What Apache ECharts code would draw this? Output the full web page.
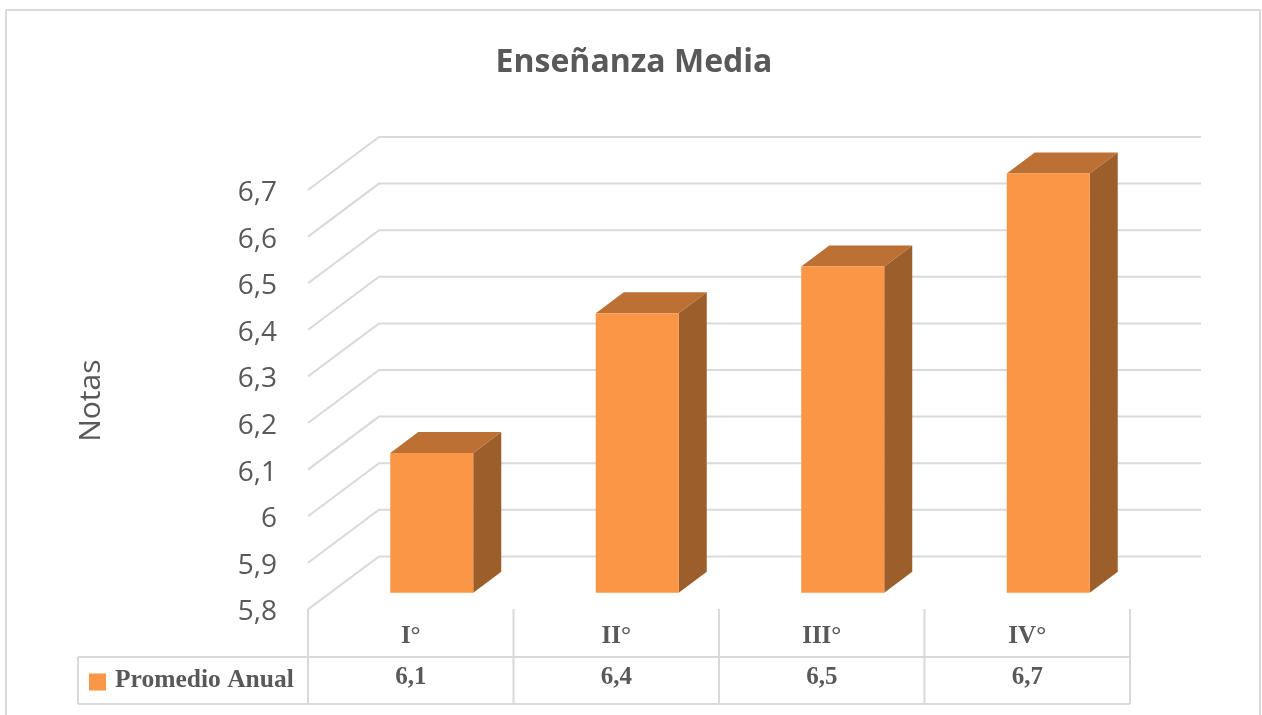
<!DOCTYPE html>
<html>
<head>
<meta charset="utf-8">
<style>html,body{margin:0;padding:0;background:#fff}#c{width:1262px;height:715px}</style>
<script src="https://cdn.jsdelivr.net/npm/echarts@6/dist/echarts.min.js"></script>
</head>
<body>
<div id="c"></div>
<script>
const categories = ['I°', 'II°', 'III°', 'IV°'];
const promedioAnual = [6.1, 6.4, 6.5, 6.7];
const tableLabels = ['6,1', '6,4', '6,5', '6,7'];
const yTicks = [5.8, 5.9, 6.0, 6.1, 6.2, 6.3, 6.4, 6.5, 6.6, 6.7];

const GRID = '#D9D9D9', TEXT = '#595959';
const FRONT = '#FA9645', TOP = '#BD7033', SIDE = '#9C5E2B';
const SANS = '"Open Sans", sans-serif', SERIF = '"Liberation Serif", serif';
const L = 308, R = 1130, T = 190, B = 609.4;
const dx = 71, dy = -53;

function line(x1, y1, x2, y2, w) {
  return { type: 'line', shape: { x1, y1, x2, y2 }, style: { stroke: GRID, lineWidth: w || 2 }, silent: true };
}
const tableX = [308, 513.5, 719, 924.5, 1130];
const staticLines = [
  line(6, 10, 1260, 10), line(6, 10, 6, 715), line(1260, 10, 1260, 715),
  line(78, 657, 1130, 657), line(78, 704, 1130, 704), line(78, 657, 78, 704)
].concat(tableX.map(x => line(x, 609, x, 704)));

const chart = echarts.init(document.getElementById('c'), null, { renderer: 'canvas' });
chart.setOption({
  animation: false,
  backgroundColor: '#fff',
  title: {
    text: 'Enseñanza Media', left: 629, top: 42, textAlign: 'center',
    textStyle: { fontFamily: SANS, fontWeight: 'bold', fontSize: 32, color: TEXT }
  },
  legend: {
    data: ['Promedio Anual'], left: 84, top: 662, icon: 'rect', itemWidth: 17, itemHeight: 17, itemGap: 0,
    formatter: '{a|{name}}',
    textStyle: {
      rich: { a: { fontFamily: SERIF, fontWeight: 'bold', fontSize: 25.5, color: TEXT, padding: [0, 0, 4, 4] } }
    }
  },
  grid: { left: L, top: T, width: R - L, height: B - T },
  xAxis: {
    type: 'category', data: categories,
    axisLine: { show: false }, axisTick: { show: false }, splitLine: { show: false },
    axisLabel: { margin: 15, fontFamily: SERIF, fontWeight: 'bold', fontSize: 25, color: TEXT }
  },
  yAxis: {
    type: 'value', min: 5.8, max: 6.7, interval: 0.1,
    name: 'Notas', nameLocation: 'middle', nameGap: 202, nameRotate: 90,
    nameTextStyle: { fontFamily: SANS, fontSize: 30, color: TEXT, padding: [0, 2, 0, 0] },
    axisLine: { show: false }, axisTick: { show: false }, splitLine: { show: false },
    axisLabel: {
      margin: 31, fontFamily: SANS, fontSize: 28, color: TEXT, verticalAlign: 'top', lineHeight: 6,
      formatter: v => (Math.abs(v - 6) < 1e-6 ? '6' : v.toFixed(1).replace('.', ','))
    }
  },
  graphic: { elements: staticLines },
  series: [
    {
      type: 'custom', name: 'grid3d', z: 1, silent: true, clip: false,
      data: yTicks.map(v => [0, v]),
      encode: { x: 0, y: 1 },
      renderItem: function (params, api) {
        const y = api.coord([0, api.value(1)])[1];
        return {
          type: 'polyline',
          shape: { points: [[L, y], [L + dx, y + dy], [R + 71, y + dy]] },
          style: { stroke: GRID, lineWidth: 2, fill: null }
        };
      }
    },
    {
      type: 'custom', name: 'Promedio Anual', z: 2, clip: false,
      itemStyle: { color: FRONT },
      data: promedioAnual.map((v, i) => [i, v]),
      encode: { x: 0, y: 1 },
      renderItem: function (params, api) {
        const top = api.coord([api.value(0), api.value(1)]);
        const base = api.coord([api.value(0), yTicks[0]]);
        const w = 83, ox = 21, oy = -16.6, ddx = 28, ddy = -21;
        const x0 = top[0] + ox - w / 2, x1 = x0 + w;
        const yt = top[1] + oy, yb = base[1] + oy;
        const poly = (pts, fill) => ({ type: 'polygon', shape: { points: pts }, style: { fill } });
        return {
          type: 'group',
          children: [
            poly([[x1, yt], [x1 + ddx, yt + ddy], [x1 + ddx, yb + ddy], [x1, yb]], SIDE),
            poly([[x0, yt], [x0 + ddx, yt + ddy], [x1 + ddx, yt + ddy], [x1, yt]], TOP),
            poly([[x0, yt], [x1, yt], [x1, yb], [x0, yb]], FRONT)
          ]
        };
      }
    },
    {
      type: 'custom', name: 'tabla', z: 3, silent: true, clip: false,
      data: tableLabels.map((t, i) => [i, t]),
      encode: { x: 0 },
      renderItem: function (params, api) {
        const x = api.coord([params.dataIndex, yTicks[0]])[0];
        return {
          type: 'text',
          style: {
            x, y: 678, text: tableLabels[params.dataIndex], align: 'center', verticalAlign: 'middle',
            font: 'bold 25px ' + SERIF, fill: TEXT
          }
        };
      }
    }
  ]
});
</script>
</body>
</html>
